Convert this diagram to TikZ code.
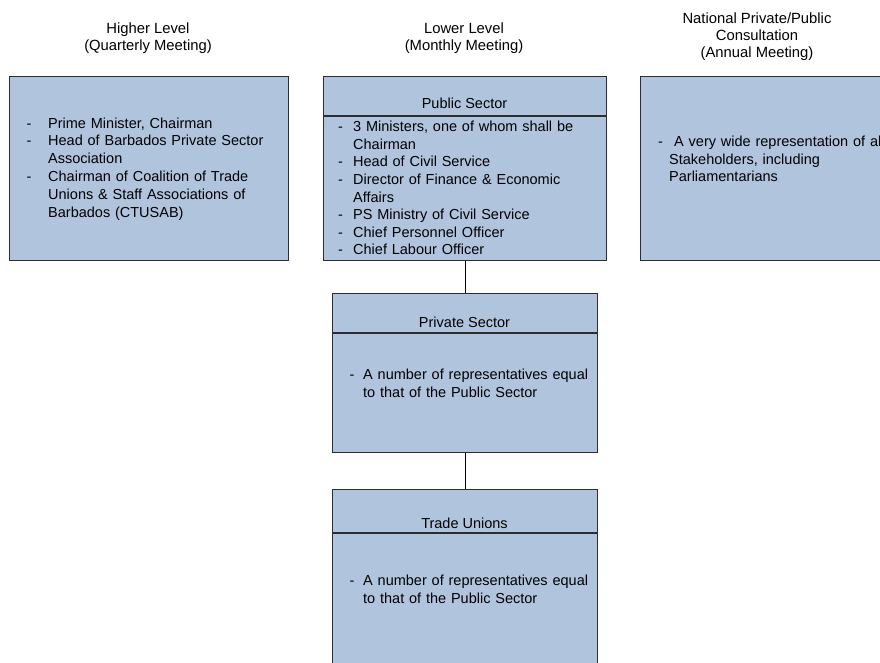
\documentclass[tikz,border=0pt]{standalone}
\usepackage{fontspec}
\setmainfont{Liberation Sans}
\definecolor{boxfill}{RGB}{176,196,222}
\definecolor{boxline}{RGB}{45,45,45}
\newcommand\itm[2]{\par\hangindent=#1\hangafter=1\noindent\strut\makebox[#1][l]{-}#2}
\tikzset{
  panel/.style={draw=boxline, fill=boxfill, line width=1.2pt, rectangle, inner sep=0pt, anchor=north west},
  divider/.style={draw=boxline, line width=1.2pt},
  link/.style={draw=black, line width=1.1pt},
  listtext/.style={anchor=north west, inner sep=0pt, text width=300pt,
    font=\fontsize{14.5}{17.6}\selectfont},
  headtext/.style={anchor=base, inner sep=0pt, font=\fontsize{14.5}{17.6}\selectfont},
  leveltext/.style={align=center, inner sep=0pt, font=\fontsize{14.8}{17}\selectfont}
}
\begin{document}
\begin{tikzpicture}[x=1pt, y=-1pt]
\useasboundingbox (0,0) rectangle (880,663);
\clip (0,0) rectangle (880,663);

% level titles
\node[leveltext] (h1) at (148,38) {Higher Level\\(Quarterly Meeting)};
\node[leveltext] (h2) at (464,38) {Lower Level\\(Monthly Meeting)};
\node[leveltext] (h3) at (757,37) {National Private/Public\\Consultation\\(Annual Meeting)};

% boxes
\node[panel, minimum width=279pt, minimum height=184pt] (high) at (9,76) {};
\node[panel, minimum width=283pt, minimum height=184pt] (pub) at (323,76) {};
\node[panel, minimum width=270pt, minimum height=184pt] (nat) at (640,76) {};
\node[panel, minimum width=265pt, minimum height=159pt] (priv) at (332,293) {};
\node[panel, minimum width=265pt, minimum height=210pt] (tu) at (332,489) {};

% dividers
\coordinate (pubdivL) at (323,116);
\coordinate (pubdivR) at (606,116);
\draw[divider] (pubdivL) -- (pubdivR);
\coordinate (privdivL) at (332,333);
\coordinate (privdivR) at (597,333);
\draw[divider] (privdivL) -- (privdivR);
\coordinate (tudivL) at (332,533);
\coordinate (tudivR) at (597,533);
\draw[divider] (tudivL) -- (tudivR);

% connectors
\draw[link] (pub.south) -- (priv.north);
\draw[link] (priv.south) -- (tu.north);

% headers
\node[headtext] (pubh) at (464.5,109) {Public Sector};
\node[headtext] (privh) at (464.5,327) {Private Sector};
\node[headtext] (tuh) at (464.5,528) {Trade Unions};

% lists
\node[listtext, font=\fontsize{14.5}{17.9}\selectfont] (highlist) at (26.5,110) {%
\itm{21.5pt}{Prime Minister, Chairman}%
\itm{21.5pt}{Head of Barbados Private Sector\newline Association}%
\itm{21.5pt}{Chairman of Coalition of Trade\newline Unions \& Staff Associations of\newline Barbados (CTUSAB)}\par};

\node[listtext] (publist) at (338,114) {%
\itm{15pt}{3 Ministers, one of whom shall be\newline Chairman}%
\itm{15pt}{Head of Civil Service}%
\itm{15pt}{Director of Finance \& Economic\newline Affairs}%
\itm{15pt}{PS Ministry of Civil Service}%
\itm{15pt}{Chief Personnel Officer}%
\itm{15pt}{Chief Labour Officer}\par};

\node[listtext] (natlist) at (658,129) {%
\par\hangindent=11pt\hangafter=1\noindent\strut\makebox[16pt][l]{-}A very wide representation of all\newline Stakeholders, including\newline Parliamentarians\par};

\node[listtext] (privlist) at (349.5,362) {%
\itm{13.5pt}{A number of representatives equal\newline to that of the Public Sector}\par};

\node[listtext] (tulist) at (349.5,568) {%
\itm{13.5pt}{A number of representatives equal\newline to that of the Public Sector}\par};
\end{tikzpicture}
\end{document}
